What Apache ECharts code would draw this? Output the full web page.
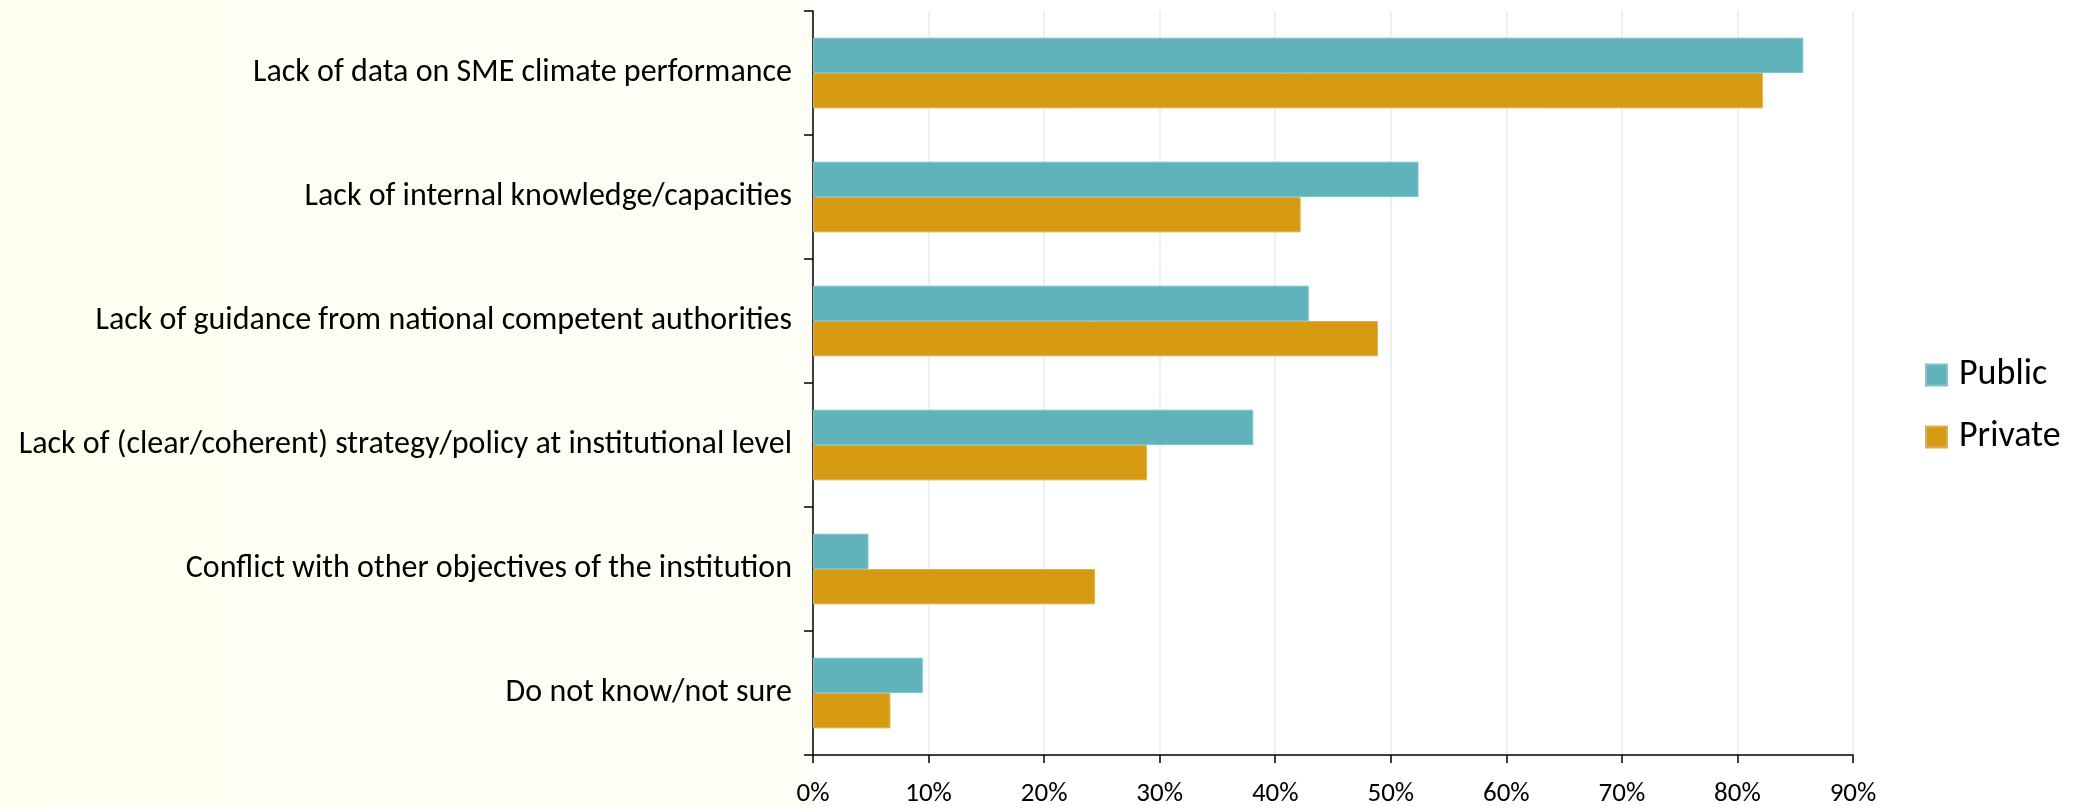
<!DOCTYPE html>
<html>
<head>
<meta charset="utf-8">
<title>Barriers</title>
<script src="https://cdn.jsdelivr.net/npm/echarts@6/dist/echarts.min.js"></script>
<style>
  html, body { margin: 0; padding: 0; }
  body {
    background: linear-gradient(to right, #fffff0 0px, #fefef7 813px, #ffffff 813px);
  }
  #chart { width: 2083px; height: 808px; }
</style>
</head>
<body>
<div id="chart"></div>
<script>
// categories top to bottom
const categories = [
  'Lack of data on SME climate performance',
  'Lack of internal knowledge/capacities',
  'Lack of guidance from national competent authorities',
  'Lack of (clear/coherent) strategy/policy at institutional level',
  'Conflict with other objectives of the institution',
  'Do not know/not sure'
];
const publicShare = [85.7, 52.4, 42.9, 38.1, 4.8, 9.5];
const privateShare = [82.2, 42.2, 48.9, 28.9, 24.4, 6.7];
const seriesNames = ['Public', 'Private'];

const FONT = 'Carlito, Calibri, Lato, sans-serif';

const chart = echarts.init(document.getElementById('chart'));
const option = {
  animation: false,
  backgroundColor: 'transparent',
  textStyle: { fontFamily: FONT, color: '#000' },
  grid: {
    left: 813,
    right: 230,
    top: 11,
    bottom: 49,
    show: true,
    backgroundColor: '#fff',
    borderWidth: 0
  },
  legend: {
    orient: 'vertical',
    left: 1920,
    top: 352,
    icon: 'rect',
    itemWidth: 21,
    itemHeight: 21,
    itemGap: 26,
    textStyle: { fontSize: 36, fontFamily: FONT, color: '#000', padding: [0, 0, 0, 7] },
    data: seriesNames
  },
  xAxis: {
    type: 'value',
    min: 0,
    max: 90,
    interval: 10,
    axisLine: { show: true, lineStyle: { color: '#000', width: 1.5 } },
    axisTick: { show: true, length: 8, lineStyle: { color: '#000', width: 1.5 } },
    axisLabel: { formatter: '{value}%', fontSize: 27, color: '#000', margin: 26, fontFamily: FONT },
    splitLine: { show: true, lineStyle: { color: '#ebebeb', width: 1.5 } }
  },
  yAxis: {
    type: 'category',
    inverse: true,
    data: categories,
    axisLine: { show: true, lineStyle: { color: '#000', width: 1.5 } },
    axisTick: { show: true, length: 9, lineStyle: { color: '#000', width: 1.5 } },
    axisLabel: { fontSize: 32, color: '#000', margin: 21, fontFamily: FONT }
  },
  series: [
    {
      name: seriesNames[0],
      type: 'bar',
      data: publicShare,
      barGap: '0%',
      barCategoryGap: '43%',
      itemStyle: { color: '#60b3ba', borderColor: '#7ec3c8', borderWidth: 1 }
    },
    {
      name: seriesNames[1],
      type: 'bar',
      data: privateShare,
      barGap: '0%',
      barCategoryGap: '43%',
      itemStyle: { color: '#d69b12', borderColor: '#e0b04a', borderWidth: 1 }
    }
  ]
};
chart.setOption(option);
</script>
</body>
</html>
